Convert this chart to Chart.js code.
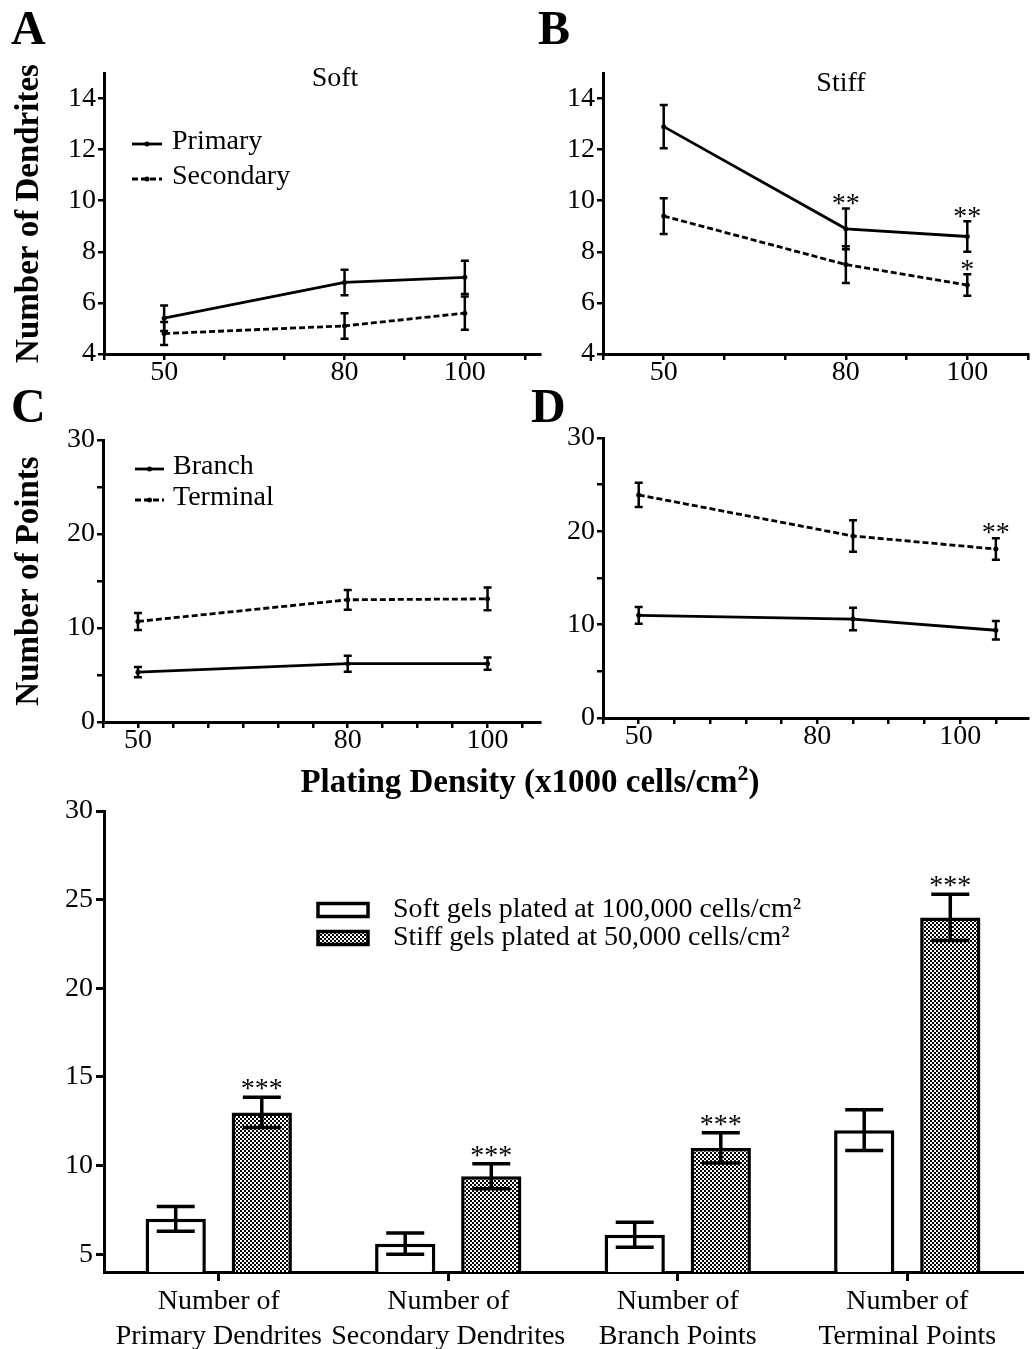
<!DOCTYPE html>
<html>
<head>
<meta charset="utf-8">
<title>Dendrites vs plating density</title>
<script src="https://cdn.jsdelivr.net/npm/chart.js@4.4.1/dist/chart.umd.min.js"></script>
<style>
  body { margin: 0; background: #fff; }
  #fig { position: relative; width: 1032px; height: 1349px; overflow: hidden;
         font-family: "Liberation Serif", "Times New Roman", serif; color: #000; }
  #fig canvas { position: absolute; }
  .txt { position: absolute; white-space: nowrap; line-height: 1; }
  .letter { font-size: 48px; font-weight: bold; }
  .panelTitle { font-size: 28px; transform: translate(-50%, -50%); }
  .xTitle { font-size: 33px; font-weight: bold; transform: translate(-50%, -50%); }
  .xTitle sup { font-size: 22px; vertical-align: 12px; line-height: 0; }
</style>
</head>
<body>
<div id="fig">
  <canvas id="panelA" width="545" height="345" style="left:0;top:50px"></canvas>
  <canvas id="panelB" width="512" height="345" style="left:520px;top:50px"></canvas>
  <canvas id="panelC" width="545" height="360" style="left:0;top:400px"></canvas>
  <canvas id="panelD" width="512" height="360" style="left:520px;top:400px"></canvas>
  <canvas id="panelE" width="1032" height="559" style="left:0;top:790px"></canvas>

  <div class="txt letter" style="left:11px;top:4px">A</div>
  <div class="txt letter" style="left:538px;top:4px">B</div>
  <div class="txt letter" style="left:11px;top:382px">C</div>
  <div class="txt letter" style="left:531px;top:382px">D</div>
  <div class="txt panelTitle" style="left:335px;top:77px">Soft</div>
  <div class="txt panelTitle" style="left:841px;top:82px">Stiff</div>
  <div class="txt xTitle" style="left:530px;top:781px">Plating Density (x1000 cells/cm<sup>2</sup>)</div>
</div>

<script>
Chart.defaults.font.family = '"Liberation Serif", "Times New Roman", serif';
Chart.defaults.font.size = 28;
Chart.defaults.color = '#000';
Chart.defaults.animation = false;
Chart.defaults.plugins.legend.display = false;
Chart.defaults.plugins.tooltip.enabled = false;

// ---------- data ----------
const densities = [50, 80, 100];

// A - soft gels, dendrites
const softPrimary = [5.4, 6.8, 7.0];
const softPrimaryErr = [0.5, 0.5, 0.65];
const softSecondary = [4.8, 5.1, 5.6];
const softSecondaryErr = [0.45, 0.5, 0.65];

// B - stiff gels, dendrites
const stiffPrimary = [12.9, 8.9, 8.6];
const stiffPrimaryErr = [0.85, 0.8, 0.6];
const stiffPrimaryStars = ['', '**', '**'];
const stiffSecondary = [9.4, 7.5, 6.7];
const stiffSecondaryErr = [0.7, 0.72, 0.42];
const stiffSecondaryStars = ['', '', '*'];

// C - soft gels, points
const softBranch = [5.3, 6.2, 6.2];
const softBranchErr = [0.55, 0.85, 0.65];
const softTerminal = [10.7, 13.0, 13.1];
const softTerminalErr = [0.9, 1.05, 1.2];

// D - stiff gels, points
const stiffBranch = [11.0, 10.6, 9.4];
const stiffBranchErr = [0.9, 1.2, 1.0];
const stiffTerminal = [23.9, 19.5, 18.1];
const stiffTerminalErr = [1.3, 1.7, 1.15];
const stiffTerminalStars = ['', '', '**'];

// bottom panel
const barCategories = [
  ['Number of', 'Primary Dendrites'],
  ['Number of', 'Secondary Dendrites'],
  ['Number of', 'Branch Points'],
  ['Number of', 'Terminal Points']
];
const softBars = [7.0, 5.6, 6.1, 12.0];
const softBarsErr = [0.7, 0.6, 0.7, 1.15];
const stiffBars = [13.0, 9.4, 11.0, 24.0];
const stiffBarsErr = [0.85, 0.7, 0.85, 1.3];
const stiffBarsStars = ['***', '***', '***', '***'];

// tick labels
const densityLabels = ['50', '80', '100'];
const densityLabelAtD = [50, 75, 95];   // panel D prints its labels off the data columns
const tensTicks = [40, 50, 60, 70, 80, 90, 100, 110];
const fivesTicks = [45, 50, 55, 60, 65, 70, 75, 80, 85, 90, 95, 100, 105];
const fivesTicksD = [45, 50, 55, 60, 65, 70, 75, 80, 85, 90, 95, 100];
const dendriteTicks = [4, 6, 8, 10, 12, 14];
const pointTicks = [0, 5, 10, 15, 20, 25, 30];
const pointLabels = [0, 10, 20, 30];
const barTicks = [5, 10, 15, 20, 25, 30];

// ---------- plugins ----------
const errorBars = {
  id: 'errorBars',
  afterDatasetsDraw(chart, args, opts) {
    const ctx = chart.ctx;
    chart.data.datasets.forEach((ds, i) => {
      if (!ds.errors) return;
      const meta = chart.getDatasetMeta(i);
      const yScale = chart.scales[meta.yAxisID];
      const half = opts.capWidth / 2;
      ctx.save();
      ctx.strokeStyle = '#000';
      ctx.fillStyle = '#000';
      ctx.lineWidth = opts.lineWidth;
      ctx.font = opts.starFont;
      ctx.textAlign = 'center';
      ctx.textBaseline = 'alphabetic';
      meta.data.forEach((el, j) => {
        const raw = ds.data[j];
        const v = typeof raw === 'object' ? raw.y : raw;
        const top = yScale.getPixelForValue(v + ds.errors[j]);
        const bot = yScale.getPixelForValue(v - ds.errors[j]);
        ctx.beginPath();
        ctx.moveTo(el.x, top); ctx.lineTo(el.x, bot);
        ctx.moveTo(el.x - half, top); ctx.lineTo(el.x + half, top);
        ctx.moveTo(el.x - half, bot); ctx.lineTo(el.x + half, bot);
        ctx.stroke();
        if (ds.stars && ds.stars[j]) {
          ctx.fillText(ds.stars[j], el.x, top + opts.starOffset);
        }
      });
      ctx.restore();
    });
  }
};

// legend drawn inside the plot
const innerLegend = {
  id: 'innerLegend',
  afterDraw(chart, args, opts) {
    const ctx = chart.ctx;
    ctx.save();
    ctx.font = opts.font;
    ctx.textBaseline = 'middle';
    chart.data.datasets.forEach((ds, i) => {
      const y = opts.y + i * opts.rowHeight;
      if (opts.kind === 'line') {
        const ly = y + opts.lineShift;
        ctx.strokeStyle = '#000';
        ctx.lineWidth = ds.borderWidth;
        ctx.setLineDash(ds.borderDash || []);
        ctx.beginPath();
        ctx.moveTo(opts.x, ly); ctx.lineTo(opts.x + opts.sampleWidth, ly);
        ctx.stroke();
        ctx.setLineDash([]);
        ctx.fillStyle = '#000';
        ctx.beginPath();
        ctx.arc(opts.x + opts.sampleWidth / 2, ly, ds.pointRadius, 0, Math.PI * 2);
        ctx.fill();
      } else {
        ctx.fillStyle = ds.backgroundColor;
        ctx.fillRect(opts.x, y - opts.boxHeight / 2, opts.sampleWidth, opts.boxHeight);
        ctx.strokeStyle = '#000';
        ctx.lineWidth = opts.boxBorder;
        ctx.strokeRect(opts.x, y - opts.boxHeight / 2, opts.sampleWidth, opts.boxHeight);
      }
      ctx.fillStyle = '#000';
      ctx.fillText(ds.label, opts.x + opts.sampleWidth + opts.gap, y);
    });
    ctx.restore();
  }
};

// ---------- helpers ----------
const axisGrid = (tick) => ({
  drawOnChartArea: false, tickLength: tick, color: '#000', lineWidth: 2.5,
  tickColor: '#000', tickWidth: 2.5
});
const axisBorder = { color: '#000', width: 3 };

function xDensity(min, max, tickAt, labelAt, height) {
  return {
    type: 'linear', min: min, max: max,
    afterBuildTicks: (scale) => { scale.ticks = tickAt.map(v => ({ value: v })); },
    afterFit: (scale) => { scale.height = height; },
    ticks: {
      autoSkip: false, maxRotation: 0, minRotation: 0, padding: -4,
      callback: (value) => {
        const k = labelAt.indexOf(value);
        return k >= 0 ? densityLabels[k] : '';
      }
    },
    grid: axisGrid(6),
    border: axisBorder
  };
}

function yValues(min, max, tickAt, labelAt, width, title) {
  return {
    type: 'linear', min: min, max: max,
    afterBuildTicks: (scale) => { scale.ticks = tickAt.map(v => ({ value: v })); },
    afterFit: (scale) => { scale.width = width; },
    ticks: {
      autoSkip: false, padding: 2,
      callback: (value) => labelAt.includes(value) ? String(value) : ''
    },
    title: {
      display: !!title, text: title || '',
      font: { size: 33, weight: 'bold' },
      padding: { top: 10, bottom: 0 }
    },
    grid: axisGrid(6),
    border: axisBorder
  };
}

function lineSet(label, values, errs, dashed, stars) {
  return {
    label: label,
    data: densities.map((d, i) => ({ x: d, y: values[i] })),
    errors: errs,
    stars: stars,
    borderColor: '#000',
    borderWidth: 2.8,
    borderDash: dashed ? [6, 3] : [],
    pointRadius: 2.5,
    pointBackgroundColor: '#000',
    pointBorderWidth: 0,
    tension: 0,
    fill: false
  };
}

// ---------- A ----------
new Chart(document.getElementById('panelA'), {
  type: 'line',
  data: {
    datasets: [
      lineSet('Primary', softPrimary, softPrimaryErr, false),
      lineSet('Secondary', softSecondary, softSecondaryErr, true)
    ]
  },
  options: {
    responsive: false,
    layout: { padding: { top: 23, right: 5, left: 0, bottom: 0 } },
    scales: {
      x: xDensity(40, 112.5, tensTicks, [50, 80, 100], 41),
      y: yValues(4, 15, dendriteTicks, dendriteTicks, 104, 'Number of Dendrites')
    },
    plugins: {
      errorBars: { lineWidth: 2.5, capWidth: 8, starOffset: 4, starFont: '28px "Liberation Serif"' },
      innerLegend: { kind: 'line', x: 132, y: 92, rowHeight: 35, sampleWidth: 30, gap: 10,
                     lineShift: 2, font: '28px "Liberation Serif"' }
    }
  },
  plugins: [errorBars, innerLegend]
});

// ---------- B ----------
new Chart(document.getElementById('panelB'), {
  type: 'line',
  data: {
    datasets: [
      lineSet('Primary', stiffPrimary, stiffPrimaryErr, false, stiffPrimaryStars),
      lineSet('Secondary', stiffSecondary, stiffSecondaryErr, true, stiffSecondaryStars)
    ]
  },
  options: {
    responsive: false,
    layout: { padding: { top: 23, right: 0, left: 0, bottom: 0 } },
    scales: {
      x: xDensity(40, 110, tensTicks, [50, 80, 100], 41),
      y: yValues(4, 15, dendriteTicks, dendriteTicks, 83)
    },
    plugins: {
      errorBars: { lineWidth: 2.5, capWidth: 8, starOffset: 4, starFont: '28px "Liberation Serif"' }
    }
  },
  plugins: [errorBars]
});

// ---------- C ----------
new Chart(document.getElementById('panelC'), {
  type: 'line',
  data: {
    datasets: [
      lineSet('Branch', softBranch, softBranchErr, false),
      lineSet('Terminal', softTerminal, softTerminalErr, true)
    ]
  },
  options: {
    responsive: false,
    layout: { padding: { top: 40, right: 5, left: 0, bottom: 0 } },
    scales: {
      x: xDensity(45, 107.5, fivesTicks, [50, 80, 100], 38),
      y: yValues(0, 30, pointTicks, pointLabels, 103, 'Number of Points')
    },
    plugins: {
      errorBars: { lineWidth: 2.5, capWidth: 8, starOffset: 4, starFont: '28px "Liberation Serif"' },
      innerLegend: { kind: 'line', x: 135, y: 67, rowHeight: 31, sampleWidth: 29, gap: 9,
                     lineShift: 2, font: '28px "Liberation Serif"' }
    }
  },
  plugins: [errorBars, innerLegend]
});

// ---------- D ----------
new Chart(document.getElementById('panelD'), {
  type: 'line',
  data: {
    datasets: [
      lineSet('Branch', stiffBranch, stiffBranchErr, false),
      lineSet('Terminal', stiffTerminal, stiffTerminalErr, true, stiffTerminalStars)
    ]
  },
  options: {
    responsive: false,
    layout: { padding: { top: 38, right: 0, left: 0, bottom: 0 } },
    scales: {
      x: xDensity(45, 104.5, fivesTicksD, densityLabelAtD, 42),
      y: yValues(0, 30, pointTicks, pointLabels, 83)
    },
    plugins: {
      errorBars: { lineWidth: 2.5, capWidth: 8, starOffset: 3, starFont: '28px "Liberation Serif"' }
    }
  },
  plugins: [errorBars]
});

// ---------- bottom bar chart ----------
const barCanvas = document.getElementById('panelE');
const tile = document.createElement('canvas');
tile.width = 4; tile.height = 4;
const tctx = tile.getContext('2d');
tctx.fillStyle = '#fff'; tctx.fillRect(0, 0, 4, 4);
tctx.fillStyle = '#000'; tctx.fillRect(0, 0, 2, 2); tctx.fillRect(2, 2, 2, 2);
const checker = barCanvas.getContext('2d').createPattern(tile, 'repeat');

new Chart(barCanvas, {
  type: 'bar',
  data: {
    labels: barCategories,
    datasets: [
      { label: 'Soft gels plated at 100,000 cells/cm²', data: softBars, errors: softBarsErr,
        backgroundColor: '#fff', borderColor: '#000', borderWidth: 3.5 },
      { label: 'Stiff gels plated at 50,000 cells/cm²', data: stiffBars, errors: stiffBarsErr,
        stars: stiffBarsStars, backgroundColor: checker, borderColor: '#000', borderWidth: 3.5 }
    ]
  },
  options: {
    responsive: false,
    layout: { padding: { top: 21, right: 10, left: 0, bottom: 0 } },
    datasets: { bar: { categoryPercentage: 0.75, barPercentage: 0.7 } },
    scales: {
      x: {
        type: 'category',
        afterFit: (scale) => { scale.height = 77; },
        ticks: { autoSkip: false, maxRotation: 0, minRotation: 0, padding: 3,
                 font: { size: 28, lineHeight: 1.25 } },
        grid: Object.assign(axisGrid(9), { offset: false, lineWidth: 3, tickWidth: 3 }),
        border: axisBorder
      },
      y: {
        type: 'linear', min: 4, max: 30,
        afterBuildTicks: (scale) => { scale.ticks = barTicks.map(v => ({ value: v })); },
        afterFit: (scale) => { scale.width = 104; },
        ticks: { padding: 3 },
        grid: Object.assign(axisGrid(8), { lineWidth: 3, tickWidth: 3 }),
        border: axisBorder
      }
    },
    plugins: {
      errorBars: { lineWidth: 3.5, capWidth: 38, starOffset: 0, starFont: '28px "Liberation Serif"' },
      innerLegend: { kind: 'box', x: 318, y: 120, rowHeight: 28, sampleWidth: 50, boxHeight: 13,
                     boxBorder: 3.5, gap: 25, font: '28px "Liberation Serif"' }
    }
  },
  plugins: [errorBars, innerLegend]
});
</script>
</body>
</html>
